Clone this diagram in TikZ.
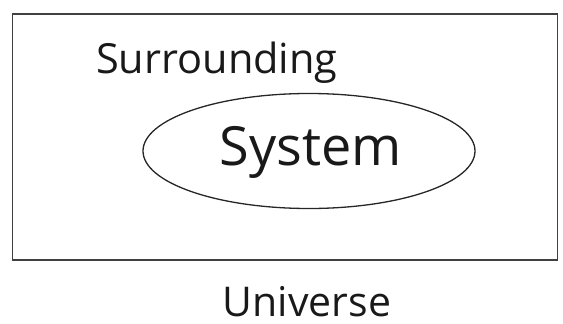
\documentclass[tikz,border=0pt]{standalone}
\usepackage{fontspec}
\setmainfont{Open Sans}
\usetikzlibrary{shapes.geometric}
\begin{document}
\begin{tikzpicture}[x=1pt,y=1pt,
  boxline/.style={draw=black!75,line width=1.8pt},
  ovalline/.style={draw=black!85,line width=1.3pt},
  lbl/.style={inner sep=0pt,text=black!90}]
\useasboundingbox (0,0) rectangle (563,-324);
\node[boxline,rectangle,minimum width=545,minimum height=246,inner sep=0pt] (box) at (285,-137) {};
\node[ovalline,ellipse,minimum width=332,minimum height=115,inner sep=0pt] (sys) at (309,-151) {};
\node[lbl,anchor=base west,font=\fontsize{41.5}{46}\selectfont] (sur) at (96,-73) {Surrounding};
\node[lbl,anchor=base,font=\fontsize{54}{59}\selectfont] (systxt) at (311,-165) {System};
\node[lbl,anchor=base,font=\fontsize{41}{45}\selectfont] (uni) at (307,-316) {Universe};
\end{tikzpicture}
\end{document}
